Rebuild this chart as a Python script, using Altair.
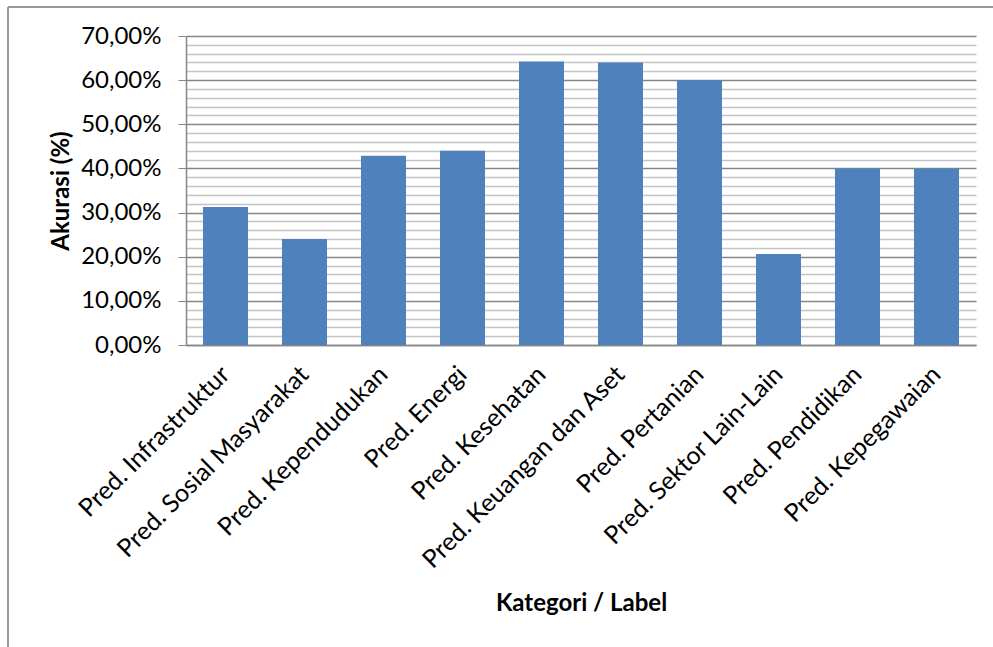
import altair as alt
import pandas as pd

categories = [
    "Pred. Infrastruktur",
    "Pred. Sosial Masyarakat",
    "Pred. Kependudukan",
    "Pred. Energi",
    "Pred. Kesehatan",
    "Pred. Keuangan dan Aset",
    "Pred. Pertanian",
    "Pred. Sektor Lain-Lain",
    "Pred. Pendidikan",
    "Pred. Kepegawaian",
]
accuracy = [31.25, 24.0, 42.86, 44.0, 64.2, 64.0, 60.0, 20.6, 40.0, 40.0]
y_ticks = [v * 2 for v in range(36)]  # 0..70 step 2

df = pd.DataFrame({"kategori": categories, "akurasi": accuracy})

FONT = "Lato"
W, H = 790, 309

major_test = "round(datum.value) % 10 == 0"

bars = alt.Chart(df).mark_bar(color="#4F81BD").encode(
    x=alt.X(
        "kategori:N",
        sort=categories,
        scale=alt.Scale(paddingInner=0.43, paddingOuter=0.215),
        axis=alt.Axis(
            title="Kategori / Label",
            labelAngle=-45,
            labelAlign="right",
            labelBaseline="middle",
            labelFont=FONT,
            labelFontSize=25,
            labelColor="#000000",
            labelPadding=25,
            labelLimit=500,
            ticks=False,
            domainColor="#868686",
            domainWidth=1.5,
            titleFont=FONT,
            titleFontSize=24,
            titleFontWeight="bold",
            titleColor="#000000",
            titleY=258,
            titleBaseline="middle",
        ),
    ),
    y=alt.Y(
        "akurasi:Q",
        scale=alt.Scale(domain=[0, 70], nice=False),
        axis=alt.Axis(
            title="Akurasi (%)",
            values=y_ticks,
            labelExpr="round(datum.value) % 10 == 0 ? replace(format(datum.value, '.2f'), '.', ',') + '%' : ''",
            labelFont=FONT,
            labelFontSize=24,
            labelColor="#000000",
            labelPadding=17,
            tickSize=8,
            tickColor={"condition": {"test": major_test, "value": "#868686"}, "value": "rgba(0,0,0,0)"},
            gridColor={"condition": {"test": major_test, "value": "#868686"}, "value": "#c4c4c4"},
            gridWidth=1.5,
            domainColor="#868686",
            domainWidth=1.5,
            titleFont=FONT,
            titleFontSize=24,
            titleFontWeight="bold",
            titleColor="#000000",
            titleX=-125,
            titleBaseline="middle",
        ),
    ),
)

frame_df = pd.DataFrame({"k": [0]})
frame_top = alt.Chart(frame_df).mark_rule(color="#9a9a9a", strokeWidth=2).encode(
    x=alt.value(-178), x2=alt.value(W + 40), y=alt.value(-29)
)
frame_left = alt.Chart(frame_df).mark_rule(color="#9a9a9a", strokeWidth=2).encode(
    x=alt.value(-178), y=alt.value(-29), y2=alt.value(H + 320)
)

chart = alt.layer(bars, frame_top, frame_left).properties(
    width=W,
    height=H,
    autosize=alt.AutoSizeParams(type="none"),
    padding={"left": 186, "top": 36, "right": 17, "bottom": 302},
    background="white",
).configure_view(stroke=None)

chart.save("out.html", embed_options={"renderer": "svg", "actions": False})
